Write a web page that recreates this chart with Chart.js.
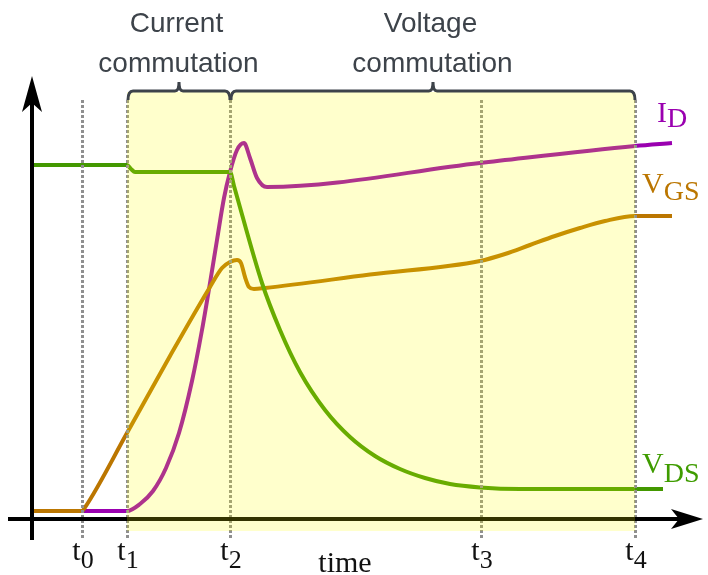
<!DOCTYPE html>
<html>
<head>
<meta charset="utf-8">
<script src="https://cdn.jsdelivr.net/npm/chart.js@4.4.1/dist/chart.umd.min.js"></script>
<style>
  html, body { margin: 0; padding: 0; background: #fff; }
</style>
</head>
<body>
<canvas id="chart" width="708" height="575"></canvas>
<script>
// Instantes marcados no eixo do tempo (unidades arbitrárias)
const tickNames = ["0", "1", "2", "3", "4"];
const tickTimes = [5, 9.5, 19.8, 44.9, 60.3];

// Tensão dreno-fonte V_DS
const vdsTime  = [0, 9.5, 9.9, 10.3, 19.8, 20.2, 23, 24.8, 26.8, 29.3, 31.8, 34.3, 36.8, 39.3, 41.8, 44.8, 48.8, 63.1];
const vdsValue = [88.5, 88.5, 87.5, 86.75, 86.75, 83.25, 59, 47.25, 36.75, 27.25, 20.5, 15.75, 12.5, 10.25, 8.75, 7.9, 7.5, 7.5];

// Corrente de dreno I_D
const idTime  = [5, 9.5, 10.8, 12.1, 13.4, 14.7, 16, 17, 17.8, 18.5, 19.2, 19.8, 20.5, 21.2, 21.8, 22.5, 23.5, 44.8, 60.3, 64];
const idValue = [2, 2, 3.75, 7, 12.75, 21.5, 34.5, 47.25, 59, 69.75, 80.25, 86.75, 92.25, 94, 90.25, 85.25, 83, 89, 93.25, 94];

// Tensão porta-fonte V_GS
const vgsTime  = [0, 5, 5.3, 9.5, 13.8, 17.8, 19, 19.8, 20.5, 20.9, 21.3, 21.7, 22.2, 23.3, 33.8, 44.8, 47.3, 49.8, 52.3, 54.8, 57.3, 60.3, 64];
const vgsValue = [2, 2, 2.9, 21.5, 40.75, 58, 62.75, 64.25, 64.75, 64, 60.5, 58, 57.5, 57.75, 61.1, 64.5, 66.25, 68.5, 70.75, 72.75, 74.5, 75.75, 75.75];

// Faixas de comutação (início, fim, texto)
const phaseStart = [9.5, 19.8];
const phaseEnd = [19.8, 60.3];
const phaseText = [["Current", "commutation"], ["Voltage", "commutation"]];

const textColor = "#3d434a";

function toPoints(xs, ys) {
  return xs.map((x, i) => ({ x: x, y: ys[i] }));
}

// Ponta de seta com entalhe
function arrowHead(ctx, tipX, tipY, dx, dy, len, half, notch) {
  const nx = -dy, ny = dx;
  ctx.beginPath();
  ctx.moveTo(tipX, tipY);
  ctx.lineTo(tipX - dx * len + nx * half, tipY - dy * len + ny * half);
  ctx.lineTo(tipX - dx * (len - notch), tipY - dy * (len - notch));
  ctx.lineTo(tipX - dx * len - nx * half, tipY - dy * len - ny * half);
  ctx.closePath();
  ctx.fill();
}

function drawBrace(ctx, x1, x2, y) {
  const mid = (x1 + x2) / 2;
  ctx.beginPath();
  ctx.moveTo(x1, y + 9);
  ctx.quadraticCurveTo(x1, y, x1 + 5, y);
  ctx.lineTo(mid - 4, y);
  ctx.quadraticCurveTo(mid, y, mid, y - 9);
  ctx.quadraticCurveTo(mid, y, mid + 4, y);
  ctx.lineTo(x2 - 5, y);
  ctx.quadraticCurveTo(x2, y, x2, y + 9);
  ctx.stroke();
}

// Texto com índice (ex.: t0, V_GS)
function subText(ctx, main, sub, x, y, mainFont, subFont, drop, centered) {
  ctx.font = mainFont;
  const w1 = ctx.measureText(main).width;
  ctx.font = subFont;
  const w2 = ctx.measureText(sub).width;
  let left = centered ? x - (w1 + w2) / 2 : x;
  ctx.textAlign = "left";
  ctx.textBaseline = "alphabetic";
  ctx.font = mainFont;
  ctx.fillText(main, left, y);
  ctx.font = subFont;
  ctx.fillText(sub, left + w1, y + drop);
}

const diagramPlugin = {
  id: "diagram",
  afterDatasetsDraw(chart) {
    const ctx = chart.ctx;
    const xs = chart.scales.x;
    const ys = chart.scales.y;
    const area = chart.chartArea;
    const x0 = xs.getPixelForValue(0);
    const y0 = ys.getPixelForValue(0);

    ctx.save();

    // linhas pontilhadas dos instantes
    ctx.strokeStyle = "#8f8f8f";
    ctx.lineWidth = 3;
    ctx.setLineDash([3, 2]);
    tickTimes.forEach(t => {
      const px = Math.round(xs.getPixelForValue(t)) + 0.5;
      ctx.beginPath();
      ctx.moveTo(px, ys.getPixelForValue(104.75));
      ctx.lineTo(px, ys.getPixelForValue(-5.25));
      ctx.stroke();
    });
    ctx.setLineDash([]);

    // eixos
    ctx.strokeStyle = "#000";
    ctx.fillStyle = "#000";
    ctx.lineWidth = 4;
    ctx.beginPath();
    ctx.moveTo(x0, ys.getPixelForValue(-5.25));
    ctx.lineTo(x0, area.top + 20);
    ctx.stroke();
    arrowHead(ctx, x0, area.top + 1, 0, -1, 36, 10, 9);
    ctx.beginPath();
    ctx.moveTo(xs.getPixelForValue(-2.4), y0);
    ctx.lineTo(area.right - 15, y0);
    ctx.stroke();
    arrowHead(ctx, area.right + 3, y0, 1, 0, 32, 10, 8);

    // região de comutação
    const left = xs.getPixelForValue(phaseStart[0]);
    const right = xs.getPixelForValue(phaseEnd[1]);
    const top = ys.getPixelForValue(106.75);
    const bottom = ys.getPixelForValue(-3);
    ctx.fillStyle = "rgba(255, 255, 0, 0.2)";
    ctx.fillRect(left, top, right - left, bottom - top);

    // chaves e textos
    ctx.strokeStyle = textColor;
    ctx.lineWidth = 3;
    ctx.fillStyle = textColor;
    ctx.font = "28px 'Liberation Sans', Arial, sans-serif";
    ctx.textAlign = "center";
    ctx.textBaseline = "alphabetic";
    phaseStart.forEach((s, i) => {
      const a = xs.getPixelForValue(s);
      const b = xs.getPixelForValue(phaseEnd[i]);
      drawBrace(ctx, a + 1, b, top - 1);
      ctx.fillText(phaseText[i][0], (a + b) / 2 - 2, 32);
      ctx.fillText(phaseText[i][1], (a + b) / 2, 72);
    });

    // rótulos do eixo do tempo
    const serif = "'Liberation Serif', 'Times New Roman', serif";
    ctx.fillStyle = "#111";
    tickTimes.forEach((t, i) => {
      subText(ctx, "t", tickNames[i], xs.getPixelForValue(t) + 1, 560,
        "30px " + serif, "26px " + serif, 8, true);
    });
    ctx.font = "30px " + serif;
    ctx.textAlign = "center";
    ctx.fillText("time", 345, 572);

    // nomes das curvas
    const t4 = xs.getPixelForValue(tickTimes[4]);
    ctx.fillStyle = "#9a00b0";
    subText(ctx, "I", "D", t4 + 22, 122, "30px " + serif, "28px " + serif, 5, false);
    ctx.fillStyle = "#bb7600";
    subText(ctx, "V", "GS", t4 + 7, 193, "30px " + serif, "28px " + serif, 7, false);
    ctx.fillStyle = "#3f9c00";
    subText(ctx, "V", "DS", t4 + 7, 473, "30px " + serif, "28px " + serif, 9, false);

    ctx.restore();
  }
};

const lineStyle = {
  borderWidth: 4,
  pointRadius: 0,
  fill: false,
  cubicInterpolationMode: "monotone",
  clip: false
};

new Chart(document.getElementById("chart"), {
  type: "line",
  data: {
    datasets: [
      Object.assign({ label: "VDS", data: toPoints(vdsTime, vdsValue), borderColor: "#439800" }, lineStyle),
      Object.assign({ label: "VGS", data: toPoints(vgsTime, vgsValue), borderColor: "#bb7600" }, lineStyle),
      Object.assign({ label: "ID", data: toPoints(idTime, idValue), borderColor: "#9a00b0" }, lineStyle)
    ]
  },
  options: {
    responsive: false,
    animation: false,
    layout: { padding: { top: 75, left: 32, right: 8, bottom: 56 } },
    plugins: { legend: { display: false }, tooltip: { enabled: false } },
    scales: {
      x: { type: "linear", min: 0, max: 66.8, display: false },
      y: { min: 0, max: 111, display: false }
    }
  },
  plugins: [diagramPlugin]
});
</script>
</body>
</html>
